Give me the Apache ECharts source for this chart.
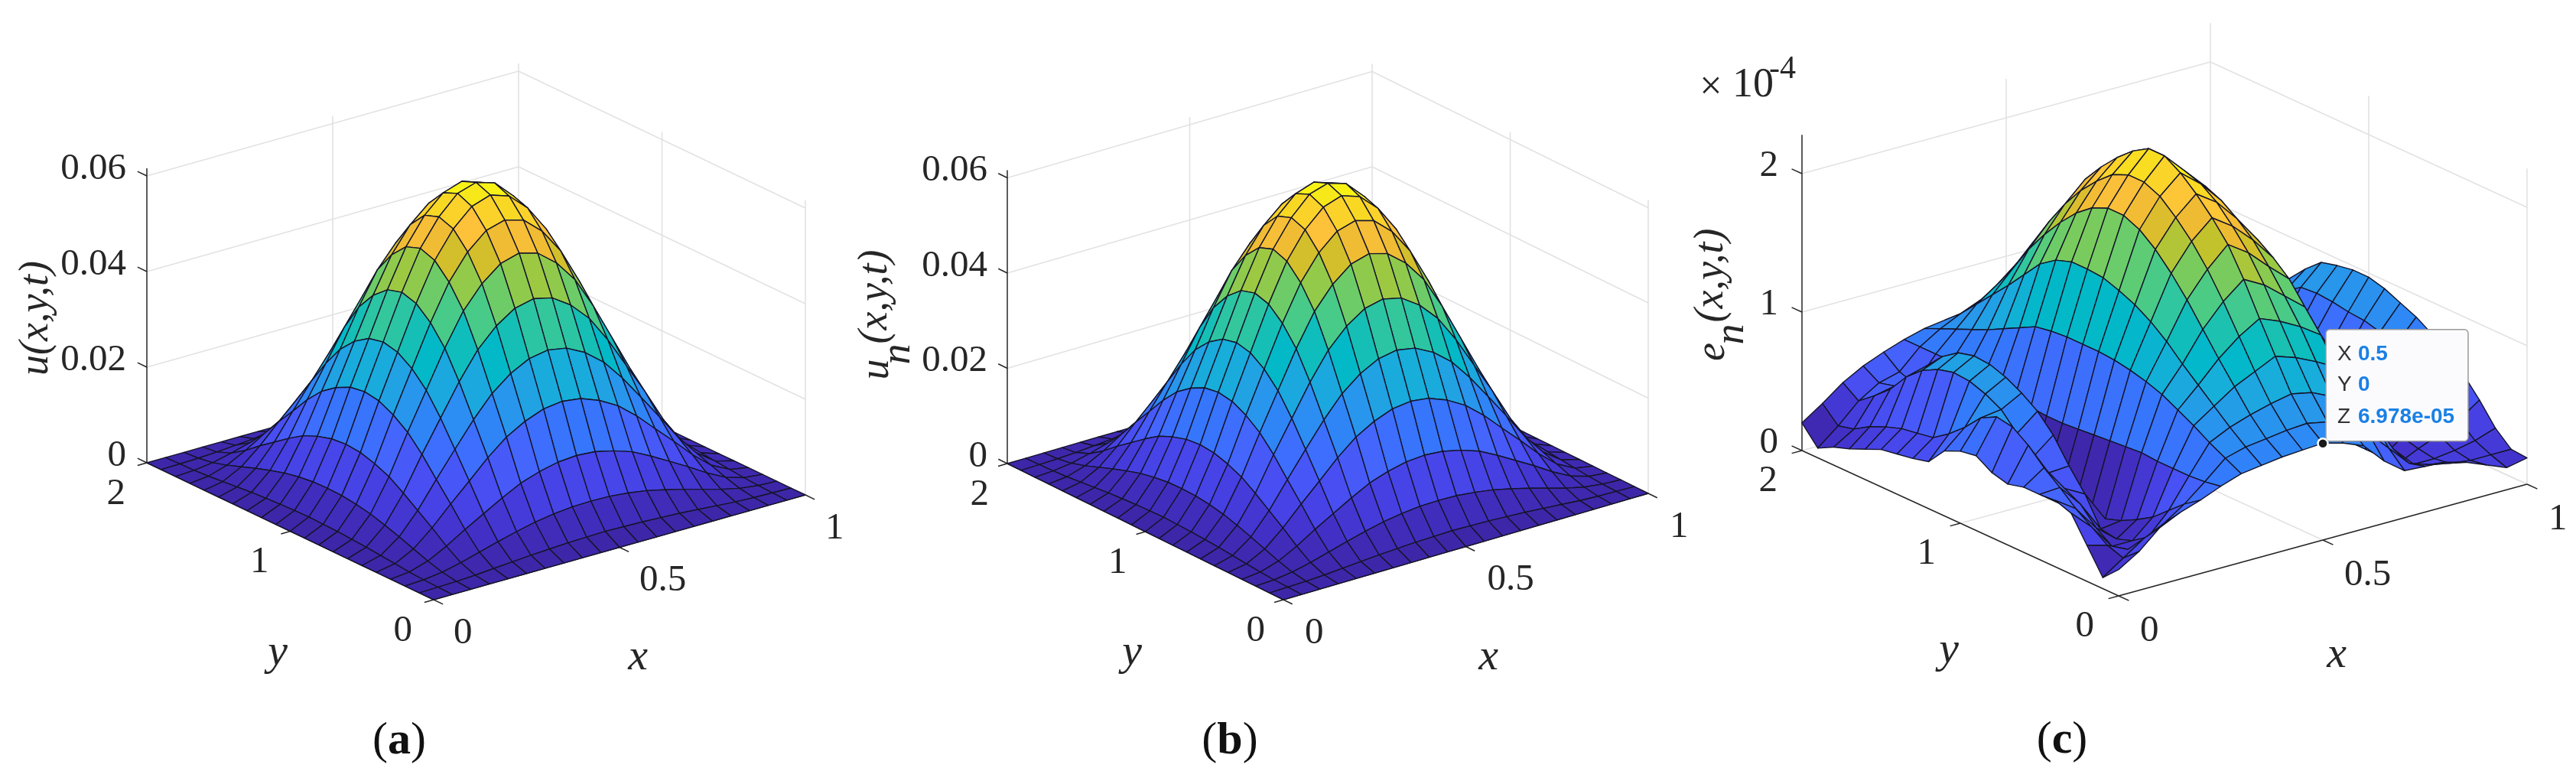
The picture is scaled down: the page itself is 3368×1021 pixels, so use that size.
<!DOCTYPE html>
<html>
<head>
<meta charset="utf-8">
<script src="https://cdn.jsdelivr.net/npm/echarts@6/dist/echarts.min.js"></script>
<style>html,body{margin:0;background:#fff}#main{width:3368px;height:1021px}</style>
</head>
<body>
<div id="main"></div>
<script>
// mesh positions
const xGrid = [0,.05,.1,.15,.2,.25,.3,.35,.4,.45,.5,.55,.6,.65,.7,.75,.8,.85,.9,.95,1];
const yGrid = [0,.1,.2,.3,.4,.5,.6,.7,.8,.9,1,1.1,1.2,1.3,1.4,1.5,1.6,1.7,1.8,1.9,2];

// u(x,y,t), unit 1e-3, one row per x, one column per y
const uValues = [
[0,0,0,0,0,0,0,0,0,0,0,0,0,0,0,0,0,0,0,0,0],
[0,.1,.2,.4,.7,1,1.3,1.5,1.7,1.8,1.9,1.8,1.7,1.5,1.3,1,.7,.4,.2,.1,0],
[0,.2,.7,1.6,2.7,3.8,4.8,5.7,6.3,6.7,6.8,6.7,6.3,5.7,4.8,3.8,2.7,1.6,.7,.2,0],
[0,.4,1.6,3.6,6,8.2,10.4,12.4,13.7,14.6,14.9,14.6,13.7,12.4,10.4,8.2,6,3.6,1.6,.4,0],
[0,.7,2.7,6,9.9,13.6,17.4,20.6,22.8,24.3,24.8,24.3,22.8,20.6,17.4,13.6,9.9,6,2.7,.7,0],
[0,1,3.8,8.2,13.6,18.8,23.9,28.3,31.4,33.4,34.1,33.4,31.4,28.3,23.9,18.8,13.6,8.2,3.8,1,0],
[0,1.3,4.8,10.4,17.4,23.9,30.4,36,39.9,42.5,43.4,42.5,39.9,36,30.4,23.9,17.4,10.4,4.8,1.3,0],
[0,1.5,5.7,12.4,20.6,28.3,36,42.7,47.3,50.4,51.5,50.4,47.3,42.7,36,28.3,20.6,12.4,5.7,1.5,0],
[0,1.7,6.3,13.7,22.8,31.4,39.9,47.3,52.5,55.9,57,55.9,52.5,47.3,39.9,31.4,22.8,13.7,6.3,1.7,0],
[0,1.8,6.7,14.6,24.3,33.4,42.5,50.4,55.9,59.5,60.8,59.5,55.9,50.4,42.5,33.4,24.3,14.6,6.7,1.8,0],
[0,1.9,6.8,14.9,24.8,34.1,43.4,51.5,57,60.8,62,60.8,57,51.5,43.4,34.1,24.8,14.9,6.8,1.9,0],
[0,1.8,6.7,14.6,24.3,33.4,42.5,50.4,55.9,59.5,60.8,59.5,55.9,50.4,42.5,33.4,24.3,14.6,6.7,1.8,0],
[0,1.7,6.3,13.7,22.8,31.4,39.9,47.3,52.5,55.9,57,55.9,52.5,47.3,39.9,31.4,22.8,13.7,6.3,1.7,0],
[0,1.5,5.7,12.4,20.6,28.3,36,42.7,47.3,50.4,51.5,50.4,47.3,42.7,36,28.3,20.6,12.4,5.7,1.5,0],
[0,1.3,4.8,10.4,17.4,23.9,30.4,36,39.9,42.5,43.4,42.5,39.9,36,30.4,23.9,17.4,10.4,4.8,1.3,0],
[0,1,3.8,8.2,13.6,18.8,23.9,28.3,31.4,33.4,34.1,33.4,31.4,28.3,23.9,18.8,13.6,8.2,3.8,1,0],
[0,.7,2.7,6,9.9,13.6,17.4,20.6,22.8,24.3,24.8,24.3,22.8,20.6,17.4,13.6,9.9,6,2.7,.7,0],
[0,.4,1.6,3.6,6,8.2,10.4,12.4,13.7,14.6,14.9,14.6,13.7,12.4,10.4,8.2,6,3.6,1.6,.4,0],
[0,.2,.7,1.6,2.7,3.8,4.8,5.7,6.3,6.7,6.8,6.7,6.3,5.7,4.8,3.8,2.7,1.6,.7,.2,0],
[0,.1,.2,.4,.7,1,1.3,1.5,1.7,1.8,1.9,1.8,1.7,1.5,1.3,1,.7,.4,.2,.1,0],
[0,0,0,0,0,0,0,0,0,0,0,0,0,0,0,0,0,0,0,0,0]
];
// (b) reads the same as (a) at this resolution
const unValues = uValues;

// e_n(x,y,t), unit 1e-4
const enValues = [
[.19,.08,.26,.44,.48,.47,.47,.44,.47,.54,.52,.47,.34,.31,.29,.27,.22,.17,.13,.07,.2],
[.28,.18,.22,.3,.38,.48,.57,.68,.76,.78,.72,.6,.5,.42,.4,.38,.34,.29,.22,.19,.3],
[.41,.28,.15,.12,.2,.32,.38,.44,.5,.62,.74,.8,.84,.85,.82,.76,.66,.52,.42,.33,.41],
[.48,.35,.2,.12,.08,.1,.3,.45,.62,.74,.82,.88,.92,.93,.9,.82,.7,.56,.45,.42,.49],
[.53,.45,.35,.25,.18,.12,.08,.06,.05,.04,.04,.05,.08,.12,.18,.25,.32,.38,.42,.46,.55],
[.59,.57,.56,.56,.56,.57,.56,.55,.54,.53,.52,.52,.53,.55,.57,.59,.6,.6,.6,.6,.6],
[.64,.7,.76,.83,.89,.95,.99,1.02,1.04,1.05,1.05,1.05,1.04,1.02,.96,.9,.84,.79,.74,.69,.64],
[.66,.74,.83,.93,1.03,1.13,1.24,1.33,1.4,1.45,1.49,1.5,1.5,1.46,1.38,1.25,1.12,1,.88,.76,.66],
[.68,.76,.88,1.03,1.18,1.34,1.5,1.64,1.76,1.85,1.9,1.9,1.85,1.76,1.64,1.5,1.34,1.15,.98,.82,.68],
[.69,.78,.92,1.1,1.3,1.5,1.68,1.83,1.95,2.05,2.1,2.1,2.05,1.95,1.83,1.68,1.5,1.3,1.1,.9,.69],
[.7,.79,.95,1.17,1.39,1.62,1.82,1.96,2.08,2.18,2.25,2.25,2.18,2.08,1.96,1.82,1.62,1.39,1.17,.95,.7],
[.66,.76,.92,1.12,1.33,1.54,1.72,1.86,1.98,2.06,2.1,2.1,2.06,1.98,1.86,1.72,1.54,1.33,1.12,.92,.66],
[.6,.7,.85,1.05,1.25,1.42,1.58,1.72,1.82,1.9,1.95,1.95,1.9,1.82,1.72,1.58,1.42,1.25,1.05,.85,.6],
[.45,.6,.78,.97,1.15,1.3,1.45,1.55,1.63,1.68,1.7,1.7,1.68,1.63,1.55,1.45,1.3,1.15,.97,.78,.5],
[.34,.45,.6,.75,.9,1,1.1,1.2,1.25,1.28,1.3,1.3,1.28,1.25,1.2,1.1,1,.85,.7,.5,.34],
[.33,.3,.35,.45,.55,.6,.65,.7,.72,.72,.72,.72,.72,.72,.7,.65,.6,.5,.4,.32,.3],
[.32,.25,.2,.15,.15,.15,.15,.15,.15,.15,.15,.15,.15,.15,.15,.15,.15,.15,.18,.22,.3],
[.28,.22,.2,.22,.25,.25,.28,.3,.32,.34,.35,.35,.35,.35,.32,.28,.25,.22,.2,.2,.26],
[.22,.2,.22,.28,.33,.38,.42,.46,.5,.52,.53,.55,.55,.55,.5,.45,.38,.3,.25,.22,.22],
[.16,.2,.25,.35,.45,.55,.62,.68,.72,.75,.76,.78,.79,.78,.7,.6,.5,.4,.3,.25,.22],
[.19,.2,.3,.45,.58,.68,.77,.84,.89,.94,.97,.97,.95,.92,.82,.7,.58,.46,.35,.25,.2]
];

// tick values and labels
const xTicks = [0,.5,1];
const xTickLabels = ['0','0.5','1'];
const yTicks = [0,1,2];
const yTickLabels = ['0','1','2'];
const uTicks = [0,20,40,60];
const uTickLabels = ['0','0.02','0.04','0.06'];
const enTicks = [0,1,2];
const enTickLabels = ['0','1','2'];

// data tip in panel (c)
const tipPoint = [.5,0,.6978];
const tipLabels = ['X','Y','Z'];
const tipTexts = ['0.5','0','6.978e-05'];

const parula = ['#3E26A8','#4332CB','#4743E7','#4854F6','#4466FD','#337AFC','#2D8CF3','#259BE8','#17AEDA','#01B8C9','#12BEB9',
  '#34C79C','#54CC7D','#71CC64','#9DC942','#C9C129','#EBBA30','#FEC13B','#FBD12B','#F6E31A','#F9FB15'];
const serif = '"Liberation Serif"';
const inkColor = '#262626';

// view of each panel: screen position of (0,0,0), the x and y edges, px per z unit
const panels = [
  {values:uValues, zTicks:uTicks, zLabels:uTickLabels, zTop:61.6, zMin:0, zMax:62,
   origin:[567,784], xEdge:[486,-137], yEdge:[-375,-179], zUnit:375/60,
   zOff:[-27,-9], yOff:[-28,41], xOff:[26,44],
   xName:[834,860], yName:[363,854], letter:[522,969], letterText:'a',
   zName:[{t:'u(x,y,t)',p:[48,416]}]},
  {values:unValues, zTicks:uTicks, zLabels:uTickLabels, zTop:61.6, zMin:0, zMax:62,
   origin:[1678,784], xEdge:[477,-139], yEdge:[-361,-178], zUnit:373.5/60,
   zOff:[-26,-9], yOff:[-24,41], xOff:[28,44],
   xName:[1946,860], yName:[1480,854], letter:[1608,969], letterText:'b',
   zName:[{t:'u',p:[1147,483]},{t:'n',p:[1175,463]},{t:'(x,y,t)',p:[1145,388]}]},
  {values:enValues, zTicks:enTicks, zLabels:enTickLabels, zTop:2.28, zMin:.04, zMax:2.25,
   origin:[2770,779], xEdge:[534,-146], yEdge:[-414,-190], zUnit:181,
   zOff:[-31,-10], yOff:[-32,40], xOff:[28,46],
   xName:[3055,857], yName:[2548,851], letter:[2696,968], letterText:'c',
   zName:[{t:'e',p:[2240,460]},{t:'n',p:[2265,437]},{t:'(x,y,t)',p:[2238,360]}]}
];

function project(p, x, y, z) {
  return [
    p.origin[0] + p.xEdge[0] * x + p.yEdge[0] * y / 2,
    p.origin[1] + p.xEdge[1] * x + p.yEdge[1] * y / 2 - p.zUnit * z
  ];
}

function cellColor(p, z) {
  return echarts.color.lerp(Math.max(0, (z - p.zMin) / (p.zMax - p.zMin)), parula);
}

// far cells first so the near ones paint over them
function surfaceSeries(p) {
  const cells = [];
  for (let i = xGrid.length - 2; i >= 0; i--) {
    for (let j = yGrid.length - 2; j >= 0; j--) cells.push([i, j]);
  }
  return {
    type: 'custom', coordinateSystem: 'cartesian2d', z: 3, silent: true, clip: false, progressive: 0,
    data: cells,
    renderItem(params, api) {
      const [i, j] = cells[params.dataIndex];
      const corners = [[i, j], [i + 1, j], [i + 1, j + 1], [i, j + 1]];
      const points = corners.map(c => api.coord(project(p, xGrid[c[0]], yGrid[c[1]], p.values[c[0]][c[1]])));
      return {
        type: 'polygon',
        shape: {points},
        style: {fill: cellColor(p, p.values[i][j]), stroke: '#15152a', lineWidth: 1.4, lineJoin: 'round'}
      };
    }
  };
}

function segmentSeries(p, segments, color, width, z) {
  return {
    type: 'custom', coordinateSystem: 'cartesian2d', z, silent: true, clip: false, progressive: 0,
    data: segments,
    renderItem(params, api) {
      const s = segments[params.dataIndex];
      const a = api.coord(project(p, s[0], s[1], s[2]));
      const b = api.coord(project(p, s[3], s[4], s[5]));
      return {
        type: 'line',
        shape: {x1: a[0], y1: a[1], x2: b[0], y2: b[1]},
        style: {stroke: color, lineWidth: width}
      };
    }
  };
}

function wallSegments(p) {
  const segs = [];
  p.zTicks.forEach(z => {
    segs.push([0, 2, z, 1, 2, z]);
    segs.push([1, 2, z, 1, 0, z]);
  });
  xTicks.slice(1).forEach(x => {
    segs.push([x, 2, 0, x, 2, p.zTop]);
    segs.push([x, 0, 0, x, 2, 0]);
  });
  yTicks.slice(0, -1).forEach(y => {
    segs.push([1, y, 0, 1, y, p.zTop]);
    segs.push([0, y, 0, 1, y, 0]);
  });
  return segs;
}

function axisSegments(p) {
  const segs = [[0, 0, 0, 1, 0, 0], [0, 0, 0, 0, 2, 0], [0, 2, 0, 0, 2, p.zTop]];
  xTicks.forEach(x => segs.push([x, 0, 0, x, -.065, 0]));
  yTicks.forEach(y => segs.push([0, y, 0, -.025, y, 0]));
  p.zTicks.forEach(z => segs.push([0, 2, z, 0, 2.065, z]));
  return segs;
}

function textSeries(items, z) {
  return {
    type: 'custom', coordinateSystem: 'cartesian2d', z, silent: true, clip: false, progressive: 0,
    data: items.map((t, k) => [k]),
    renderItem(params, api) {
      const t = items[params.dataIndex];
      const c = api.coord(t.at);
      return {
        type: 'text', x: c[0], y: c[1], rotation: t.rotation || 0,
        style: {
          text: t.text, font: t.font, fill: t.fill || inkColor,
          align: t.align || 'center', verticalAlign: 'middle', rich: t.rich
        }
      };
    }
  };
}

function panelLabels(p) {
  const tickFont = '49px ' + serif;
  const nameFont = 'italic 58px ' + serif;
  const items = [];
  p.zTicks.forEach((z, k) => {
    const q = project(p, 0, 2, z);
    items.push({at: [q[0] + p.zOff[0], q[1] + p.zOff[1]], text: p.zLabels[k], font: tickFont, align: 'right'});
  });
  yTicks.forEach((y, k) => {
    const q = project(p, 0, y, 0);
    items.push({at: [q[0] + p.yOff[0], q[1] + p.yOff[1]], text: yTickLabels[k], font: tickFont, align: 'right'});
  });
  xTicks.forEach((x, k) => {
    const q = project(p, x, 0, 0);
    items.push({at: [q[0] + p.xOff[0], q[1] + p.xOff[1]], text: xTickLabels[k], font: tickFont, align: 'left'});
  });
  items.push({at: p.xName, text: 'x', font: nameFont});
  items.push({at: p.yName, text: 'y', font: nameFont});
  p.zName.forEach(n => items.push({
    at: n.p, text: n.t, font: 'italic 54px ' + serif, rotation: Math.PI / 2
  }));
  items.push({
    at: p.letter, text: '{r|(}{b|' + p.letterText + '}{r|)}', font: '60px ' + serif,
    rich: {
      r: {font: '60px ' + serif, fill: '#111'},
      b: {font: 'bold 60px ' + serif, fill: '#111'}
    }
  });
  return items;
}

// exponent of panel (c)
const exponentItems = [
  {at: [2237, 115], text: '×', font: '52px ' + serif},
  {at: [2265, 112], text: '10', font: '54px ' + serif, align: 'left'},
  {at: [2313, 91], text: '-4', font: '42px ' + serif, align: 'left'}
];

function tipSeries(p) {
  return {
    type: 'custom', coordinateSystem: 'cartesian2d', z: 6, silent: true, clip: false,
    data: [tipPoint],
    renderItem(params, api) {
      const m = api.coord(project(p, tipPoint[0], tipPoint[1], tipPoint[2]));
      const left = m[0] + 4, top = m[1] - 149;
      const rowTop = [33, 73, 115];
      const children = [
        {type: 'rect', shape: {x: left, y: top, width: 186, height: 146, r: 5},
         style: {fill: '#fbfbfe', stroke: '#9a9a9a', lineWidth: 1.5}},
        {type: 'circle', shape: {cx: m[0], cy: m[1], r: 6.5},
         style: {fill: '#1a1a1a', stroke: '#fff', lineWidth: 2.5}}
      ];
      tipLabels.forEach((t, k) => {
        children.push({type: 'text', x: left + 15, y: top + rowTop[k],
          style: {text: t, font: '28px "Liberation Sans"', fill: '#333', verticalAlign: 'middle'}});
        children.push({type: 'text', x: left + 42, y: top + rowTop[k],
          style: {text: tipTexts[k], font: 'bold 28px "Liberation Sans"', fill: '#1a80e5', verticalAlign: 'middle'}});
      });
      return {type: 'group', children};
    }
  };
}

const series = [];
panels.forEach(p => {
  series.push(segmentSeries(p, wallSegments(p), '#e2e2e2', 1.6, 1));
  series.push(segmentSeries(p, axisSegments(p), inkColor, 1.5, 2));
  series.push(surfaceSeries(p));
  series.push(textSeries(panelLabels(p), 4));
});
series.push(textSeries(exponentItems, 4));
series.push(tipSeries(panels[2]));

const chart = echarts.init(document.getElementById('main'));
chart.setOption({
  animation: false,
  backgroundColor: '#fff',
  grid: {left: 0, right: 0, top: 0, bottom: 0},
  xAxis: {type: 'value', min: 0, max: 3368, show: false},
  yAxis: {type: 'value', min: 0, max: 1021, inverse: true, show: false},
  series
});
</script>
</body>
</html>
